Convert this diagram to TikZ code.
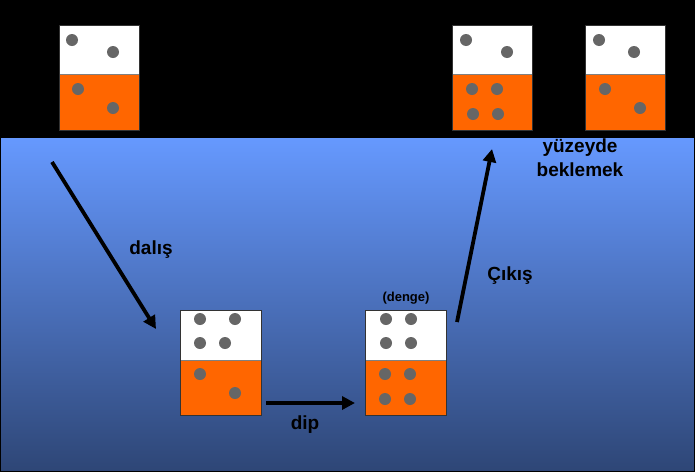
\documentclass[tikz,border=0pt]{standalone}
\usepackage{fontspec}
\setmainfont{Liberation Sans}
\usetikzlibrary{arrows.meta}
\definecolor{seatop}{RGB}{102,153,255}
\definecolor{seabottom}{RGB}{46,70,118}
\definecolor{tankorange}{RGB}{255,102,0}
\definecolor{dotgray}{RGB}{102,102,102}

\begin{document}
\begin{tikzpicture}[x=1pt,y=-1pt,
  gasdot/.style={fill=dotgray},
  tankline/.style={draw=black!80, line width=0.8pt},
  move/.style={line width=3.8pt, -{Triangle[length=13pt, width=13pt]}},
  lbl/.style={font=\bfseries\fontsize{19}{24}\selectfont, text=black}]
\useasboundingbox (0,0) rectangle (695,472);
\fill[black] (0,0) rectangle (695,472);
\shade[top color=seatop, bottom color=seabottom, draw=black, line width=1pt] (0.5,137) rectangle (694.5,471.5);
% tank at surface, start
\fill[white] (59,25) rectangle (139,74);
\fill[tankorange] (59,74) rectangle (139,130);
\draw[black!50, line width=0.8pt] (59,74) -- (139,74);
\draw[tankline] (59,25) rectangle (139,130);
\fill[gasdot] (72,40) circle (6pt) (113,52) circle (6pt) (78,89) circle (6pt) (113,108) circle (6pt);
% tank at surface, after ascent
\fill[white] (452,25) rectangle (532,74);
\fill[tankorange] (452,74) rectangle (532,130);
\draw[black!50, line width=0.8pt] (452,74) -- (532,74);
\draw[tankline] (452,25) rectangle (532,130);
\fill[gasdot] (466,40) circle (6pt) (507,52) circle (6pt) (472,89) circle (6pt) (497,89) circle (6pt) (473,114) circle (6pt) (498,114) circle (6pt);
% tank at surface, after waiting
\fill[white] (585,25) rectangle (665,74);
\fill[tankorange] (585,74) rectangle (665,130);
\draw[black!50, line width=0.8pt] (585,74) -- (665,74);
\draw[tankline] (585,25) rectangle (665,130);
\fill[gasdot] (599,40) circle (6pt) (634,52) circle (6pt) (605,89) circle (6pt) (640,108) circle (6pt);
% tank at depth, arrival
\fill[white] (180,310) rectangle (261,360);
\fill[tankorange] (180,360) rectangle (261,415);
\draw[black!50, line width=0.8pt] (180,360) -- (261,360);
\draw[tankline] (180,310) rectangle (261,415);
\fill[gasdot] (200,319) circle (6pt) (235,319) circle (6pt) (200,343) circle (6pt) (225,343) circle (6pt) (200,374) circle (6pt) (235,393) circle (6pt);
% tank at depth, balance
\fill[white] (365,310) rectangle (446,360);
\fill[tankorange] (365,360) rectangle (446,415);
\draw[black!50, line width=0.8pt] (365,360) -- (446,360);
\draw[tankline] (365,310) rectangle (446,415);
\fill[gasdot] (386,319) circle (6pt) (411,319) circle (6pt) (386,343) circle (6pt) (411,343) circle (6pt) (385,374) circle (6pt) (410,374) circle (6pt) (385,399) circle (6pt) (410,399) circle (6pt);
% arrows
\coordinate (dive start) at (52,162);
\coordinate (dive end) at (156,329);
\coordinate (bottom start) at (266,403);
\coordinate (bottom end) at (355,403);
\coordinate (ascent start) at (457,322);
\coordinate (ascent end) at (492,149);
\draw[move] (dive start) -- (dive end);
\draw[move] (bottom start) -- (bottom end);
\draw[move] (ascent start) -- (ascent end);
% labels
\node[lbl] (dalis) at (151,250) {dalış};
\node[lbl] (dip) at (305,425) {dip};
\node[lbl] (cikis) at (510,276) {Çıkış};
\node[lbl, align=center] (bekle) at (580,158) {yüzeyde\\beklemek};
\node[font=\bfseries\fontsize{13}{15}\selectfont] (denge) at (406,298) {(denge)};
\end{tikzpicture}
\end{document}
